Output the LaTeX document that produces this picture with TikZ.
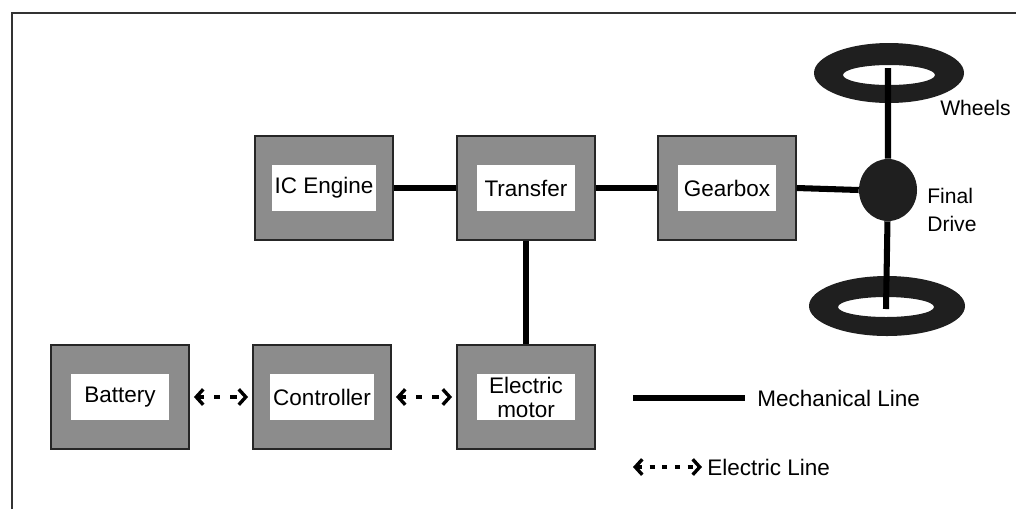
\documentclass[tikz,border=0pt]{standalone}
\usepackage{fontspec}
\setmainfont{Liberation Sans}
\usetikzlibrary{arrows.meta,positioning,shapes.geometric}

\tikzset{
  unit/.style={draw=black!85, line width=1pt, fill=black!45,
    minimum width=3.45cm, minimum height=2.6cm},
  tag/.style={fill=white, minimum width=2.45cm, minimum height=1.15cm,
    inner sep=2pt, align=center, font=\fontsize{16}{17}\selectfont},
  mech/.style={line width=4.3pt},
  elink/.style={line width=2.4pt, dash pattern=on 4.5pt off 7pt,
    {Straight Barb[length=5pt,width=11pt]}-{Straight Barb[length=5pt,width=11pt]}},
  lbl/.style={font=\fontsize{16}{20}\selectfont, anchor=west, inner sep=0pt}
}

\begin{document}
\begin{tikzpicture}[x=0.025cm,y=-0.025cm]
\useasboundingbox (0,0) rectangle (1018,509);
% frame
\draw[line width=1pt,black!80] (12,509) -- (12,13) -- (1016,13);

% Units
\foreach \n/\x/\y/\t in {ice/324/188/IC Engine, trf/526/188/Transfer,
    gbx/727/188/Gearbox, bat/120/397/Battery, ctl/322/397/Controller,
    mot/526/397/{Electric\\motor}}
{
  \node[unit] (\n) at (\x,\y) {};
  \node[tag] (\n-l) at (\n) {\t};
}

% Wheels and final drive
\fill[black!88,even odd rule] (889,73) ellipse [x radius=75, y radius=30]
  (889,75) ellipse [x radius=46, y radius=10];
\fill[black!88,even odd rule] (887,306) ellipse [x radius=78, y radius=30]
  (886,307) ellipse [x radius=48, y radius=10];
\node[ellipse,fill=black!88,minimum width=1.45cm,minimum height=1.55cm,inner sep=0pt] (fd) at (888,190) {};
\coordinate (wt) at (888,68);
\coordinate (wb) at (886,309);
\draw[mech] (wt) -- (fd) -- (wb);
\node[lbl,font=\fontsize{15}{20}\selectfont] (whl) at (940,108) {Wheels};
\node[lbl,align=left,font=\fontsize{15}{20}\selectfont] (fdl) at (927,210) {Final\\Drive};

% Mechanical links
\draw[mech] (ice.east) -- (trf.west);
\draw[mech] (trf.east) -- (gbx.west);
\draw[mech] (gbx.east) -- (fd.west);
\draw[mech] (trf.south) -- (mot.north);

% Electric links
\draw[elink,shorten <=3pt,shorten >=3pt] (bat.east) -- (ctl.west);
\draw[elink,shorten <=3pt,shorten >=3pt] (ctl.east) -- (mot.west);

% Legend
\coordinate (m1) at (633,398);
\coordinate (m2) at (745,398);
\draw[mech] (m1) -- (m2);
\node[lbl] (mlab) at (757,398) {Mechanical Line};
\coordinate (e1) at (633,467);
\coordinate (e2) at (702,467);
\draw[elink,dash pattern=on 3.5pt off 5.5pt] (e1) -- (e2);
\node[lbl] (elab) at (707,467) {Electric Line};
\end{tikzpicture}
\end{document}
